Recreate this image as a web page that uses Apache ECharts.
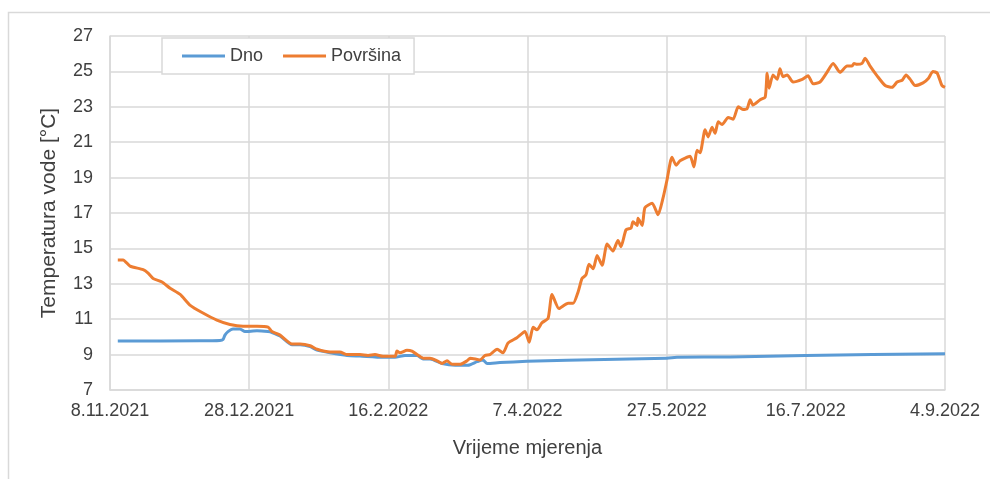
<!DOCTYPE html>
<html>
<head>
<meta charset="utf-8">
<script src="https://cdn.jsdelivr.net/npm/echarts@6/dist/echarts.min.js"></script>
<style>
  html, body { margin: 0; padding: 0; background: #fff; }
  #chart { width: 990px; height: 479px; }
</style>
</head>
<body>
<div id="chart"></div>
<script>
// days counted from 8.11.2021
const startDate = Date.UTC(2021, 10, 8);
const dayTicks = [0, 50, 100, 150, 200, 250, 300];
const tempTicks = [7, 9, 11, 13, 15, 17, 19, 21, 23, 25, 27];

const dnoDays = [2.8, 32.3, 39.5, 40.6, 41.3, 42.4, 44.2, 46.7, 48.5, 52.8, 56.8, 58.2, 61.1, 65.4, 68.3, 71.9, 74.4, 79.1, 85.2, 89.8, 98.1, 102.4, 106, 110.3, 112.5, 115, 119.3, 124, 128.6, 131.9, 134, 135.5, 140.1, 149.8, 164.2, 200.1, 203.7, 222.8, 250, 300];
const dnoTemp = [9.77, 9.78, 9.8, 9.85, 10.1, 10.3, 10.45, 10.45, 10.3, 10.35, 10.3, 10.25, 10.05, 9.55, 9.55, 9.45, 9.25, 9.1, 8.95, 8.92, 8.85, 8.85, 8.95, 8.95, 8.75, 8.75, 8.5, 8.4, 8.4, 8.6, 8.7, 8.5, 8.55, 8.62, 8.68, 8.8, 8.85, 8.87, 8.95, 9.05];

const povDays = [2.8, 4.7, 7.2, 11.9, 13.7, 15.5, 18.7, 21.6, 25.2, 28.7, 33.4, 38.4, 43.1, 47.8, 52.8, 56.8, 58.2, 61.1, 65.4, 68.3, 71.9, 74.4, 79.1, 82.6, 85.2, 89.8, 92.7, 95.2, 98.1, 102.4, 103.1, 104.2, 106.7, 108.5, 110.3, 112.5, 115, 117.5, 119.3, 121.1, 122.9, 125.8, 128.3, 129.4, 133, 134.7, 136.5, 139.1, 141.2, 143, 146.2, 149.1, 150.6, 152, 153.4, 155.2, 157.4, 158.8, 161.3, 164.6, 166.4, 168.2, 169.6, 171, 172.1, 173.6, 175, 176.8, 178.6, 180.7, 182.5, 183.6, 185.4, 187.2, 187.9, 189.4, 189.7, 191.2, 192.2, 194.8, 196.9, 198.7, 200.1, 201.9, 203.4, 204.8, 208.4, 209.8, 210.9, 212, 213.8, 214.9, 216.3, 217.4, 218.5, 219.9, 222.1, 223.9, 225.7, 227.4, 228.9, 230, 231, 233.6, 235.4, 236.1, 236.8, 238.2, 239.7, 240.7, 241.8, 243.3, 245.4, 248.7, 250.8, 252.6, 255.1, 257.6, 259.8, 262.3, 264.8, 266.6, 267.3, 268.4, 270.2, 271.3, 273.1, 275.6, 278.5, 281, 282.8, 284.6, 286, 287.5, 289.3, 292.1, 294, 295.7, 297.2, 298.9, 300];
const povTemp = [14.35, 14.35, 14.0, 13.8, 13.6, 13.3, 13.1, 12.75, 12.4, 11.8, 11.35, 10.95, 10.7, 10.6, 10.6, 10.55, 10.3, 10.1, 9.6, 9.6, 9.5, 9.3, 9.15, 9.15, 9.0, 9.0, 8.95, 9.0, 8.9, 8.9, 9.2, 9.1, 9.25, 9.2, 9.0, 8.8, 8.8, 8.65, 8.5, 8.65, 8.45, 8.45, 8.65, 8.8, 8.7, 8.95, 9.0, 9.3, 9.1, 9.65, 9.95, 10.3, 9.7, 10.55, 10.4, 10.8, 11.05, 12.4, 11.6, 11.9, 11.9, 12.55, 13.3, 13.5, 14.1, 13.85, 14.6, 14.05, 15.25, 14.85, 15.45, 15.1, 16.05, 16.15, 16.5, 16.3, 16.7, 16.3, 17.3, 17.55, 16.9, 17.85, 18.85, 20.15, 19.7, 19.95, 20.2, 19.6, 20.55, 20.4, 21.7, 21.3, 21.85, 21.5, 22.15, 22.0, 22.4, 22.3, 23.0, 22.85, 22.9, 23.4, 23.1, 23.4, 23.55, 24.9, 24.05, 24.8, 24.55, 25.15, 24.7, 24.8, 24.4, 24.55, 24.75, 24.3, 24.4, 24.95, 25.45, 24.95, 25.3, 25.3, 25.45, 25.4, 25.45, 25.75, 25.3, 24.75, 24.2, 24.1, 24.4, 24.5, 24.8, 24.55, 24.2, 24.35, 24.6, 25.0, 24.9, 24.2, 24.1];

const pairs = (xs, ys) => xs.map((x, i) => [x, ys[i]]);

const formatDay = (v) => {
  const d = new Date(startDate + v * 86400000);
  return d.getUTCDate() + '.' + (d.getUTCMonth() + 1) + '.' + d.getUTCFullYear();
};

const textColor = '#404040';
const gridColor = '#d9d9d9';
const font = 'Liberation Sans';

const chart = echarts.init(document.getElementById('chart'));
chart.setOption({
  animation: false,
  textStyle: { fontFamily: font },
  graphic: [{
    type: 'rect',
    shape: { x: 8.5, y: 12.5, width: 1000, height: 500 },
    style: { fill: 'none', stroke: gridColor, lineWidth: 1.5 },
    silent: true
  }],
  grid: { left: 110, right: 45, top: 36, bottom: 89 },
  legend: {
    left: 162,
    top: 38,
    data: ['Dno', 'Površina'],
    icon: 'rect',
    itemWidth: 43,
    itemHeight: 3,
    itemGap: 20,
    padding: [9, 13, 9, 20],
    backgroundColor: '#fff',
    borderColor: gridColor,
    borderWidth: 1.5,
    textStyle: { fontFamily: font, fontSize: 18, color: textColor }
  },
  xAxis: {
    type: 'value',
    min: dayTicks[0],
    max: dayTicks[dayTicks.length - 1],
    interval: 50,
    name: 'Vrijeme mjerenja',
    nameLocation: 'middle',
    nameGap: 48,
    nameTextStyle: { fontFamily: font, fontSize: 20, color: textColor },
    axisLine: { show: true, lineStyle: { color: gridColor, width: 1.5 } },
    axisTick: { show: false },
    axisLabel: {
      fontFamily: font, fontSize: 18, color: textColor, margin: 12,
      showMinLabel: true, showMaxLabel: true,
      formatter: formatDay
    },
    splitLine: { show: true, lineStyle: { color: gridColor, width: 1.5 } }
  },
  yAxis: {
    type: 'value',
    min: tempTicks[0],
    max: tempTicks[tempTicks.length - 1],
    interval: 2,
    name: 'Temperatura vode [°C]',
    nameLocation: 'middle',
    nameGap: 50,
    nameTextStyle: { fontFamily: font, fontSize: 21, color: textColor },
    axisLine: { show: true, lineStyle: { color: gridColor, width: 1.5 } },
    axisTick: { show: false },
    axisLabel: { fontFamily: font, fontSize: 18, color: textColor, margin: 17 },
    splitLine: { show: true, lineStyle: { color: gridColor, width: 1.5 } }
  },
  series: [
    {
      name: 'Dno',
      type: 'line',
      data: pairs(dnoDays, dnoTemp),
      showSymbol: false,
      smooth: 0.2,
      itemStyle: { color: '#5B9BD5' },
      lineStyle: { color: '#5B9BD5', width: 3, join: 'round' }
    },
    {
      name: 'Površina',
      type: 'line',
      data: pairs(povDays, povTemp),
      showSymbol: false,
      smooth: 0.2,
      itemStyle: { color: '#ED7D31' },
      lineStyle: { color: '#ED7D31', width: 3, join: 'round' }
    }
  ]
});
</script>
</body>
</html>
